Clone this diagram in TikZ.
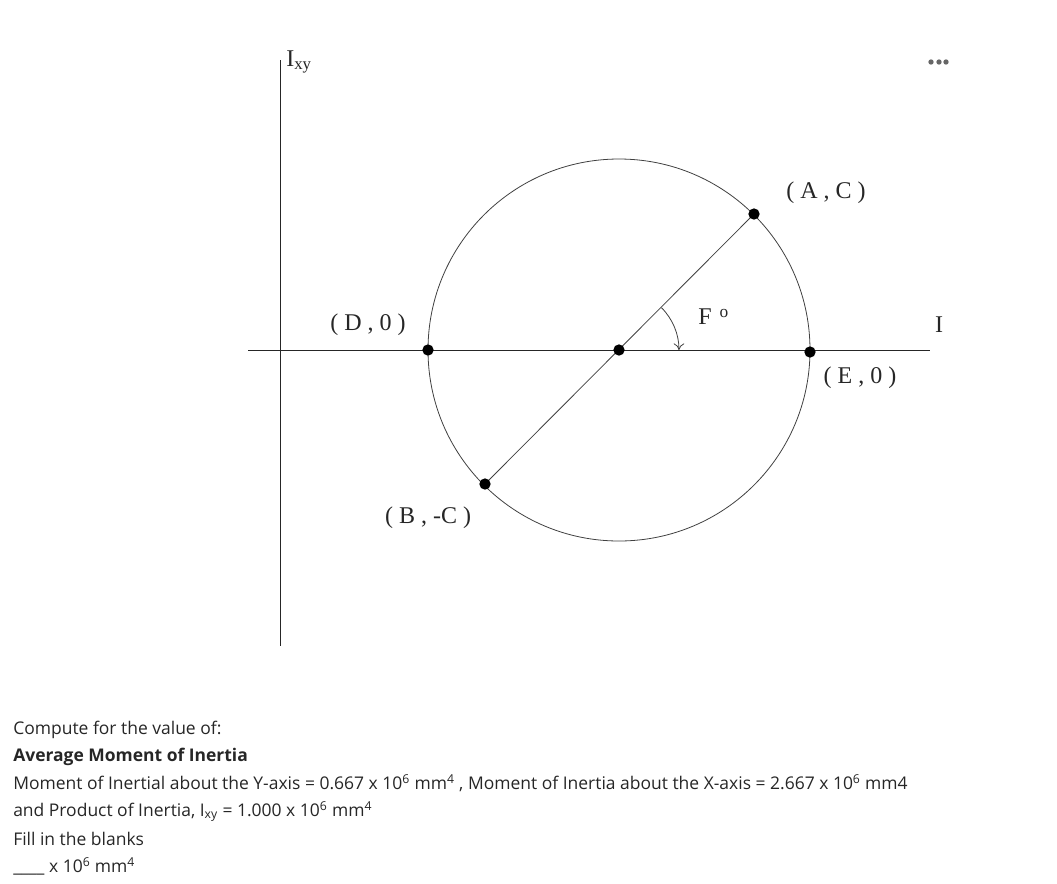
\documentclass[tikz,border=0pt]{standalone}
\usepackage{fontspec}
\setmainfont{Open Sans}
\newfontfamily\lblfont{Liberation Serif}
\usetikzlibrary{calc,arrows.meta}

\begin{document}
\begin{tikzpicture}[x=0.75pt,y=-0.75pt, dot/.style={circle,fill=black,inner sep=0pt,minimum size=8.5pt}, lbl/.style={font=\lblfont\fontsize{18}{20}\selectfont,text=black!85,inner sep=0pt}, txt/.style={anchor=base west,inner sep=0pt,text=black!85,font=\fontsize{13.1}{15}\selectfont}, axis/.style={line width=0.7pt,black!85}]
        \useasboundingbox (0,0) rectangle (1057,883);
        % axes
        \coordinate (ytop) at (280,60);
        \coordinate (ybot) at (280,646);
        \coordinate (xl) at (248,350);
        \coordinate (xr) at (930,350);
        \draw[axis] (ytop) -- (ybot);
        \draw[axis] (xl) -- (xr);
        % circle and diameter
        \coordinate (O) at (619,350);
        \draw[black!75,line width=0.6pt] (O) circle[radius=143.25pt];
        \draw[black!75,line width=0.6pt] (754,214) node[dot](ptA){} -- (485,484) node[dot](ptB){};
        \node[dot] (ptO) at (O) {};
        \node[dot] (ptD) at (428,350) {};
        \node[dot] (ptE) at (810,352) {};
        % angle
        \draw[black!75,line width=0.6pt,-{To[length=5pt,width=8pt]}] (661.4,307.6) arc[start angle=45,end angle=0,radius=45pt];
        % labels
        \node[lbl] (lblA) at (826,193) {( A , C )};
        \node[lbl] (lblD) at (368,325) {( D , 0 )};
        \node[lbl] (lblE) at (860,378) {( E , 0 )};
        \node[lbl] (lblB) at (428,518) {( B , -C )};
        \node[lbl,anchor=base west] (lblF) at (698,324) {F\,\,\raisebox{0.55ex}{\fontsize{13}{13}\selectfont o}};
        \node[lbl] (lblI) at (939,325) {I};
        \node[lbl,anchor=west] (lblIxy) at (286,62) {I\textsubscript{xy}};
        % menu dots
        \foreach \px in {931,939,946}
            \fill[black!60] (\px,62) circle[radius=2pt];
        % question text
        \node[txt] (q1) at (13,734) {Compute for the value of:};
        \node[txt] (q2) at (13,761) {\bfseries Average Moment of Inertia};
        \node[txt] (q3) at (13,789) {Moment of Inertial about the Y-axis = 0.667 x 10\textsuperscript{6} mm\textsuperscript{4} , Moment of Inertia about the X-axis = 2.667 x 10\textsuperscript{6} mm4};
        \node[txt] (q4) at (13,816) {and Product of Inertia, I\textsubscript{xy} = 1.000 x 10\textsuperscript{6} mm\textsuperscript{4}};
        \node[txt] (q5) at (13,845) {Fill in the blanks};
        \node[txt] (q6) at (13,872) {\_\_\_\_ x 10\textsuperscript{6} mm\textsuperscript{4}};
\end{tikzpicture}
\end{document}
